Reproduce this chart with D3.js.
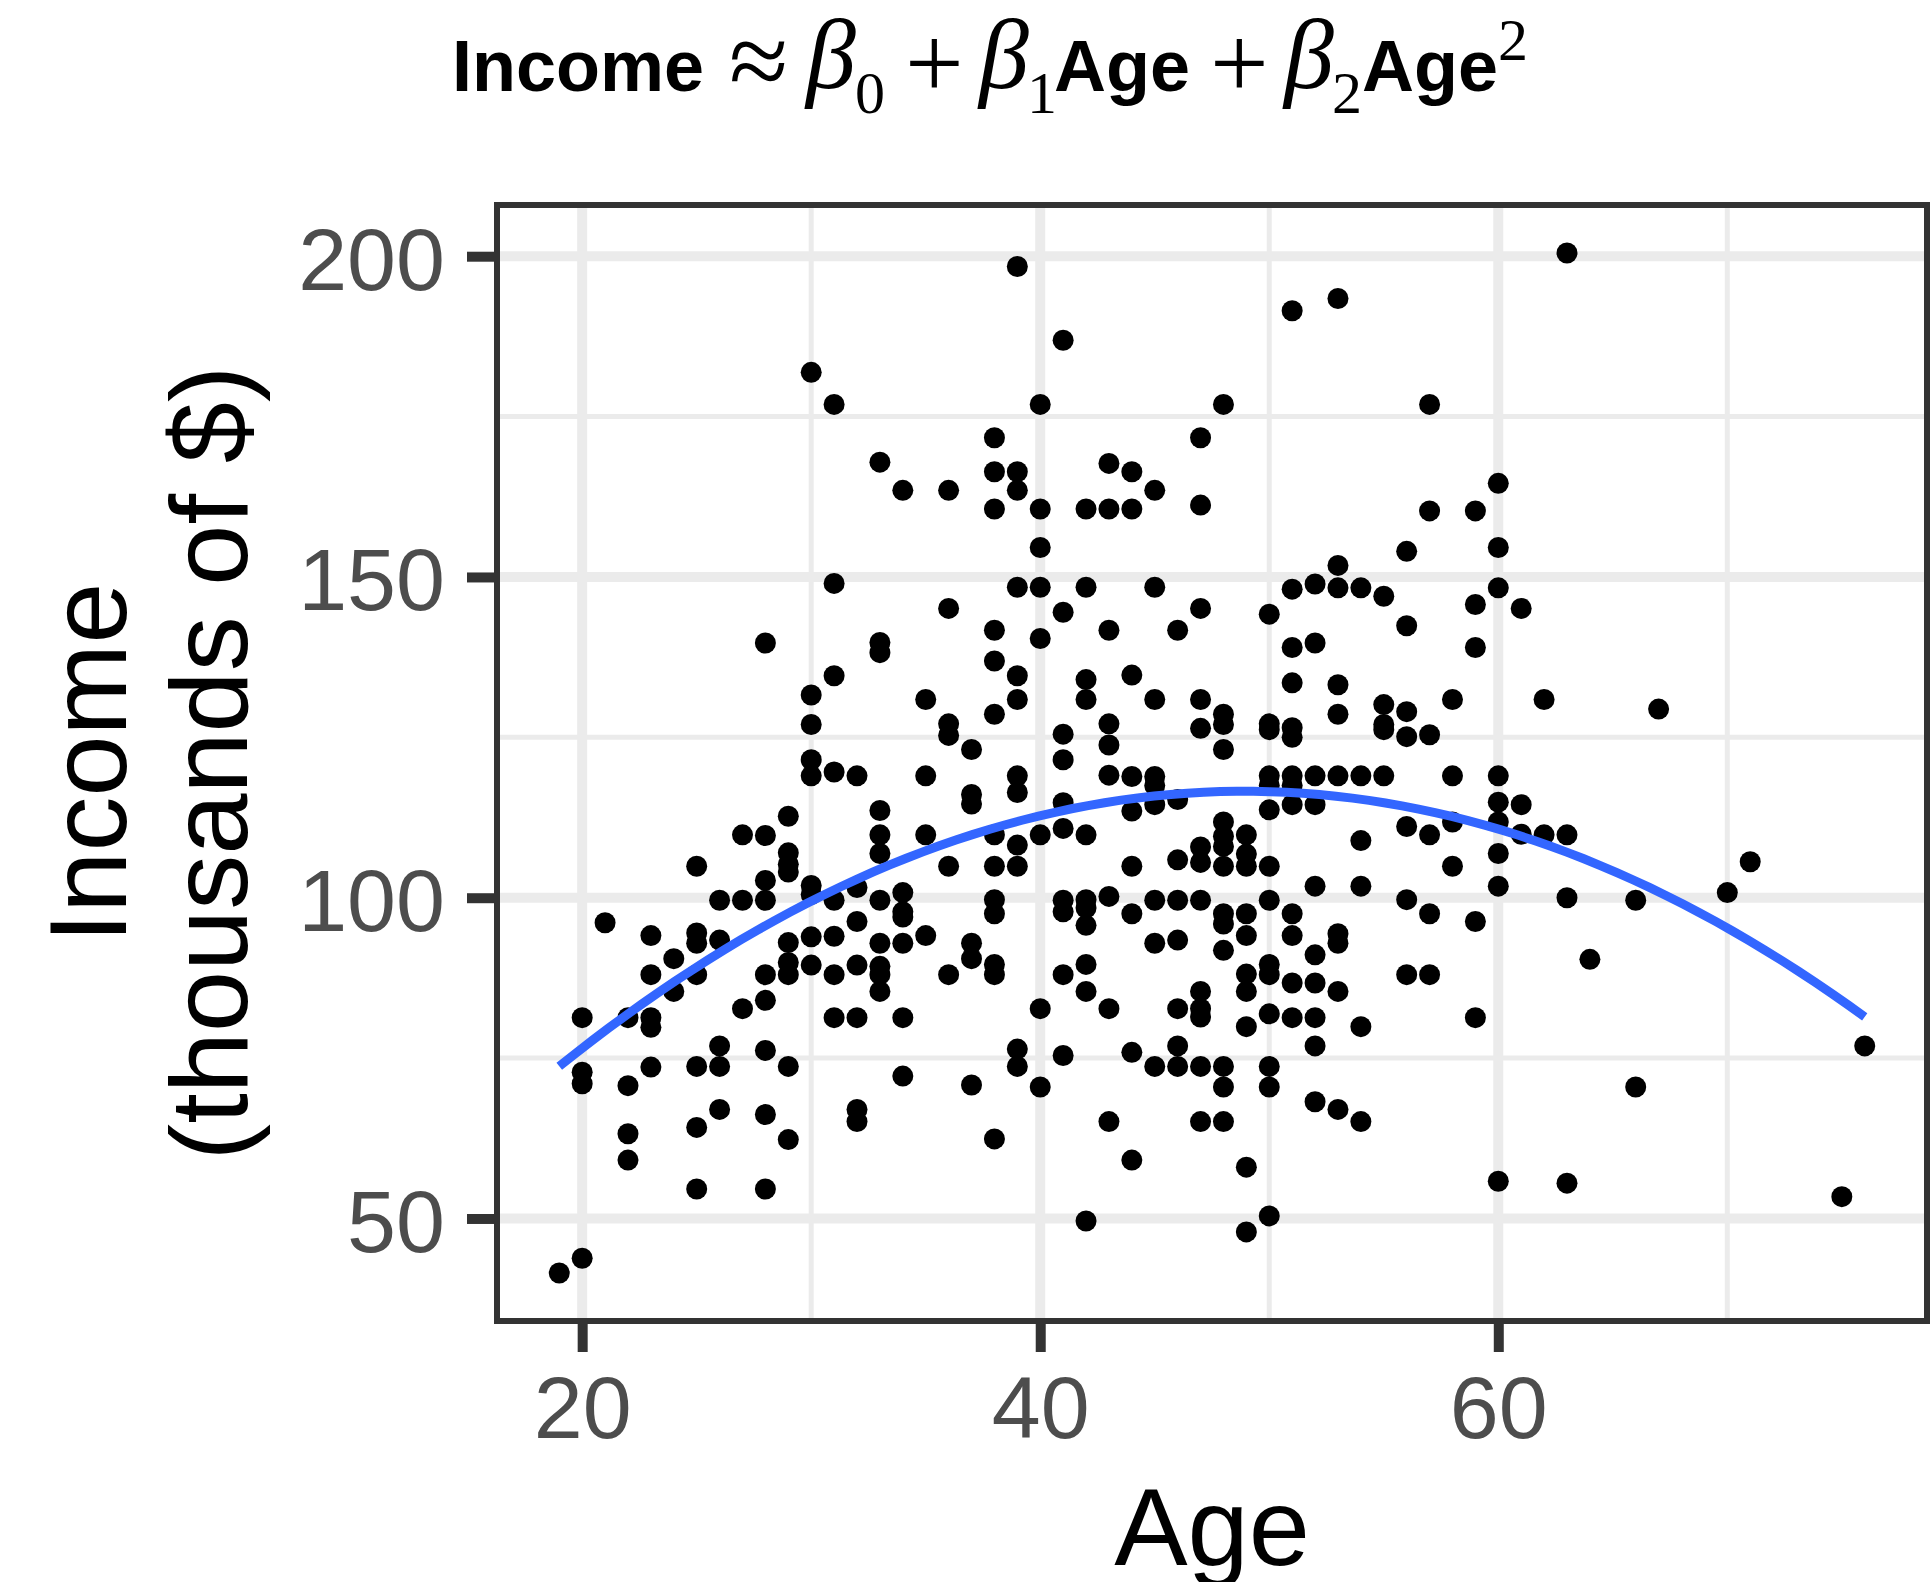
<!DOCTYPE html>
<html>
<head>
<meta charset="utf-8">
<script src="https://cdn.jsdelivr.net/npm/d3@7"></script>
<style>
  body { margin: 0; background: #fff; }
  text { font-family: "Liberation Sans", Arial, Helvetica, sans-serif; }
  .serif { font-family: "Liberation Serif", "Times New Roman", serif; }
</style>
</head>
<body>
<svg id="chart"></svg>
<script>
// Ages present in the data, and the incomes observed at each age
const ages = [19, 20, 21, 22, 23, 24, 25, 26, 27, 28, 29, 30, 31, 32, 33, 34, 35, 36, 37, 38,
  39, 40, 41, 42, 43, 44, 45, 46, 47, 48, 49, 50, 51, 52, 53, 54, 55, 56, 57, 58, 59, 60,
  61, 62, 63, 64, 66, 67, 70, 71, 75, 76];

const incomeByAge = [
  [41.5],
  [81.3, 72.8, 71.0, 43.8],
  [96.1],
  [81.3, 70.7, 63.2, 59.1],
  [94.1, 88.0, 81.3, 79.8, 73.6],
  [90.5, 85.4],
  [104.9, 94.5, 92.9, 88.0, 73.7, 64.2, 54.6],
  [99.6, 93.4, 76.9, 73.7, 67.0],
  [109.8, 99.6, 82.7],
  [139.7, 109.7, 102.7, 99.6, 88.0, 84.0, 76.2, 66.2, 54.6],
  [112.7, 107.0, 105.2, 104.0, 93.0, 89.9, 88.0, 73.7, 62.3],
  [181.9, 131.6, 127.0, 121.5, 119.0, 101.9, 100.5, 93.9, 89.5],
  [176.9, 149.0, 134.6, 119.6, 99.6, 94.0, 88.0, 81.3],
  [119.0, 101.6, 96.3, 89.5, 81.3, 67.0, 65.1],
  [167.9, 139.8, 138.2, 113.6, 109.8, 106.9, 99.6, 92.9, 89.3, 88.0, 85.4],
  [163.5, 100.8, 97.8, 97.0, 92.9, 81.3, 72.2],
  [130.9, 119.0, 109.8, 94.1],
  [163.5, 145.1, 127.1, 125.3, 104.9, 88.0],
  [123.1, 116.1, 114.6, 92.9, 90.5, 70.8],
  [171.7, 166.4, 160.6, 141.7, 136.9, 128.6, 109.8, 104.9, 99.7, 97.5, 89.6, 88.0, 62.4],
  [198.4, 166.4, 163.5, 148.4, 134.6, 130.9, 119.0, 116.4, 108.2, 104.9, 76.4, 73.7],
  [176.9, 160.6, 154.6, 148.4, 140.4, 109.8, 82.7, 70.5],
  [186.9, 144.5, 125.5, 121.5, 114.8, 110.8, 99.6, 97.8, 88.0, 75.4],
  [160.6, 148.4, 134.0, 130.9, 109.8, 99.7, 98.4, 95.7, 89.6, 85.4, 49.6],
  [167.7, 160.6, 141.7, 127.1, 123.8, 119.1, 100.2, 82.7, 65.1],
  [166.4, 160.6, 134.7, 118.9, 113.5, 104.9, 97.5, 75.9, 59.1],
  [163.5, 148.4, 130.9, 118.9, 117.5, 114.5, 99.6, 92.9, 73.7],
  [141.7, 115.3, 105.9, 99.6, 93.4, 82.7, 76.9, 73.7],
  [171.7, 161.2, 145.1, 130.9, 126.4, 107.9, 105.5, 99.6, 85.4, 82.7, 81.4, 73.7, 65.1],
  [176.9, 128.6, 127.0, 123.1, 111.8, 109.6, 108.0, 104.9, 97.5, 95.9, 91.8, 73.7, 70.5, 65.1],
  [109.8, 106.8, 104.9, 97.5, 94.1, 88.1, 85.4, 79.9, 58.0, 47.9],
  [144.2, 127.1, 126.2, 119.0, 117.5, 113.7, 104.9, 99.6, 89.6, 88.0, 81.9, 73.7, 70.5, 50.4],
  [191.5, 148.1, 139.0, 133.5, 126.5, 125.0, 119.0, 117.5, 114.5, 97.5, 94.1, 86.7, 81.3],
  [148.9, 139.7, 119.0, 114.5, 101.8, 91.1, 86.7, 81.3, 76.9, 68.2],
  [193.4, 151.8, 148.3, 133.2, 128.6, 119.0, 94.4, 92.9, 85.4, 67.0],
  [148.3, 119.0, 108.9, 101.8, 79.9, 65.1],
  [147.0, 130.1, 127.0, 126.2, 119.0],
  [154.0, 142.4, 129.0, 125.1, 111.1, 99.7, 88.0],
  [176.9, 160.3, 125.4, 109.8, 97.5, 88.0],
  [130.9, 119.0, 111.8, 104.9],
  [160.3, 145.7, 139.0, 96.3, 81.3],
  [164.6, 154.6, 148.3, 119.0, 114.9, 111.8, 106.9, 101.8, 55.8],
  [145.1, 114.5, 109.9],
  [130.9, 109.8],
  [200.5, 109.8, 100.0, 55.5],
  [90.4],
  [99.6, 70.5],
  [129.4],
  [100.8],
  [105.6],
  [53.4],
  [76.9]
];

// Axis ticks
const xTicks = [20, 40, 60];
const xMinorTicks = [30, 50, 70];
const yTicks = [50, 100, 150, 200];
const yMinorTicks = [75, 125, 175];

const width = 1931, height = 1582;
const panel = { left: 494, right: 1930, top: 202, bottom: 1324 };

const svg = d3.select("#chart")
  .attr("width", width)
  .attr("height", height);

// Flatten into points
const points = [];
ages.forEach((a, i) => incomeByAge[i].forEach(v => points.push({ age: a, income: v })));

// ggplot style 5% expansion
function expand(ext) {
  const pad = (ext[1] - ext[0]) * 0.05;
  return [ext[0] - pad, ext[1] + pad];
}

const x = d3.scaleLinear()
  .domain(expand(d3.extent(points, d => d.age)))
  .range([panel.left, panel.right]);

const y = d3.scaleLinear()
  .domain(expand(d3.extent(points, d => d.income)))
  .range([panel.bottom, panel.top]);

// Quadratic least squares fit: income ~ b0 + b1*t + b2*t^2, t = age - mean
const meanAge = d3.mean(points, d => d.age);
function fitQuadratic(pts) {
  const S = [[0, 0, 0], [0, 0, 0], [0, 0, 0]], r = [0, 0, 0];
  pts.forEach(p => {
    const t = p.age - meanAge, v = [1, t, t * t];
    for (let i = 0; i < 3; i++) {
      r[i] += v[i] * p.income;
      for (let j = 0; j < 3; j++) S[i][j] += v[i] * v[j];
    }
  });
  // gaussian elimination
  const A = S.map((row, i) => row.concat([r[i]]));
  for (let c = 0; c < 3; c++) {
    for (let k = c + 1; k < 3; k++) {
      const f = A[k][c] / A[c][c];
      for (let j = c; j < 4; j++) A[k][j] -= f * A[c][j];
    }
  }
  const b = [0, 0, 0];
  for (let i = 2; i >= 0; i--) {
    let s = A[i][3];
    for (let j = i + 1; j < 3; j++) s -= A[i][j] * b[j];
    b[i] = s / A[i][i];
  }
  return b;
}
const coef = fitQuadratic(points);
const ageExtent = d3.extent(points, d => d.age);
const fitted = d3.range(80).map(i => {
  const a = ageExtent[0] + (ageExtent[1] - ageExtent[0]) * i / 79;
  const t = a - meanAge;
  return { age: a, income: coef[0] + coef[1] * t + coef[2] * t * t };
});

// Clip to panel
svg.append("clipPath").attr("id", "panel-clip")
  .append("rect")
  .attr("x", panel.left).attr("y", panel.top)
  .attr("width", panel.right - panel.left)
  .attr("height", panel.bottom - panel.top);

const plot = svg.append("g").attr("clip-path", "url(#panel-clip)");

// Grid lines
plot.append("g").selectAll("line")
  .data(yMinorTicks)
  .join("line")
  .attr("x1", panel.left).attr("x2", panel.right)
  .attr("y1", d => y(d)).attr("y2", d => y(d))
  .attr("stroke", "#EBEBEB").attr("stroke-width", 5);

plot.append("g").selectAll("line")
  .data(xMinorTicks)
  .join("line")
  .attr("y1", panel.top).attr("y2", panel.bottom)
  .attr("x1", d => x(d)).attr("x2", d => x(d))
  .attr("stroke", "#EBEBEB").attr("stroke-width", 5);

plot.append("g").selectAll("line")
  .data(yTicks)
  .join("line")
  .attr("x1", panel.left).attr("x2", panel.right)
  .attr("y1", d => y(d)).attr("y2", d => y(d))
  .attr("stroke", "#EBEBEB").attr("stroke-width", 10);

plot.append("g").selectAll("line")
  .data(xTicks)
  .join("line")
  .attr("y1", panel.top).attr("y2", panel.bottom)
  .attr("x1", d => x(d)).attr("x2", d => x(d))
  .attr("stroke", "#EBEBEB").attr("stroke-width", 10);

// Points
plot.append("g").selectAll("circle")
  .data(points)
  .join("circle")
  .attr("cx", d => x(d.age))
  .attr("cy", d => y(d.income))
  .attr("r", 10.5)
  .attr("fill", "#000");

// Quadratic fit line
plot.append("path")
  .datum(fitted)
  .attr("fill", "none")
  .attr("stroke", "#3366FF")
  .attr("stroke-width", 9)
  .attr("d", d3.line().x(d => x(d.age)).y(d => y(d.income)));

// Panel border
svg.append("rect")
  .attr("x", panel.left + 3).attr("y", panel.top + 3)
  .attr("width", panel.right - panel.left - 6)
  .attr("height", panel.bottom - panel.top - 6)
  .attr("fill", "none")
  .attr("stroke", "#333333")
  .attr("stroke-width", 6);

// Axes
const yAxis = svg.append("g")
  .attr("transform", `translate(${panel.left},0)`)
  .call(d3.axisLeft(y).tickValues(yTicks).tickSize(27).tickPadding(22));

const xAxis = svg.append("g")
  .attr("transform", `translate(0,${panel.bottom})`)
  .call(d3.axisBottom(x).tickValues(xTicks).tickSize(28).tickPadding(24));

[yAxis, xAxis].forEach(g => {
  g.select(".domain").remove();
  g.selectAll(".tick line").attr("stroke", "#333333").attr("stroke-width", 10);
  g.selectAll(".tick text")
    .attr("fill", "#4D4D4D")
    .style("font-size", "88px")
    .style("font-family", "'Liberation Sans', Arial, Helvetica, sans-serif");
});
yAxis.selectAll(".tick text").attr("dy", "0.375em");
xAxis.selectAll(".tick text").attr("dy", "0.71em");

// Axis titles
svg.append("text")
  .attr("x", (panel.left + panel.right) / 2)
  .attr("y", 1565)
  .attr("text-anchor", "middle")
  .style("font-size", "110px")
  .attr("fill", "#000")
  .text("Age");

const yTitle = svg.append("text")
  .attr("transform", `translate(0,${(panel.top + panel.bottom) / 2}) rotate(-90)`)
  .attr("text-anchor", "middle")
  .style("font-size", "110px")
  .attr("fill", "#000");
yTitle.append("tspan").attr("x", 0).attr("y", 126).text("Income");
yTitle.append("tspan").attr("x", 0).attr("y", 247).text("(thousands of $)");

// Title: Income ≈ β0 + β1 Age + β2 Age²
const titleParts = [
  { t: "Income", x: 452, kind: "bold" },
  { t: "\u2248", x: 729, kind: "approx" },
  { t: "\u03B2", x: 806, kind: "greek" },
  { t: "0", x: 855, kind: "sub" },
  { t: "+", x: 905, kind: "op" },
  { t: "\u03B2", x: 979, kind: "greek" },
  { t: "1", x: 1027, kind: "sub" },
  { t: "Age", x: 1054, kind: "bold" },
  { t: "+", x: 1210, kind: "op" },
  { t: "\u03B2", x: 1284, kind: "greek" },
  { t: "2", x: 1332, kind: "sub" },
  { t: "Age", x: 1362, kind: "bold" },
  { t: "2", x: 1498, kind: "sup" }
];
const titleStyle = {
  bold: { size: 72, y: 91, serif: false, weight: "bold", italic: false },
  approx: { size: 108, y: 97, serif: true, weight: "normal", italic: false },
  op: { size: 104, y: 98, serif: true, weight: "normal", italic: false },
  greek: { size: 100, y: 88, serif: true, weight: "normal", italic: true },
  sub: { size: 60, y: 113, serif: true, weight: "normal", italic: false },
  sup: { size: 60, y: 60, serif: true, weight: "normal", italic: false }
};
svg.append("g").selectAll("text")
  .data(titleParts)
  .join("text")
  .attr("class", d => titleStyle[d.kind].serif ? "serif" : null)
  .attr("x", d => d.x)
  .attr("y", d => titleStyle[d.kind].y)
  .style("font-size", d => titleStyle[d.kind].size + "px")
  .style("font-weight", d => titleStyle[d.kind].weight)
  .style("font-style", d => titleStyle[d.kind].italic ? "italic" : "normal")
  .attr("fill", "#000")
  .text(d => d.t);
</script>
</body>
</html>
